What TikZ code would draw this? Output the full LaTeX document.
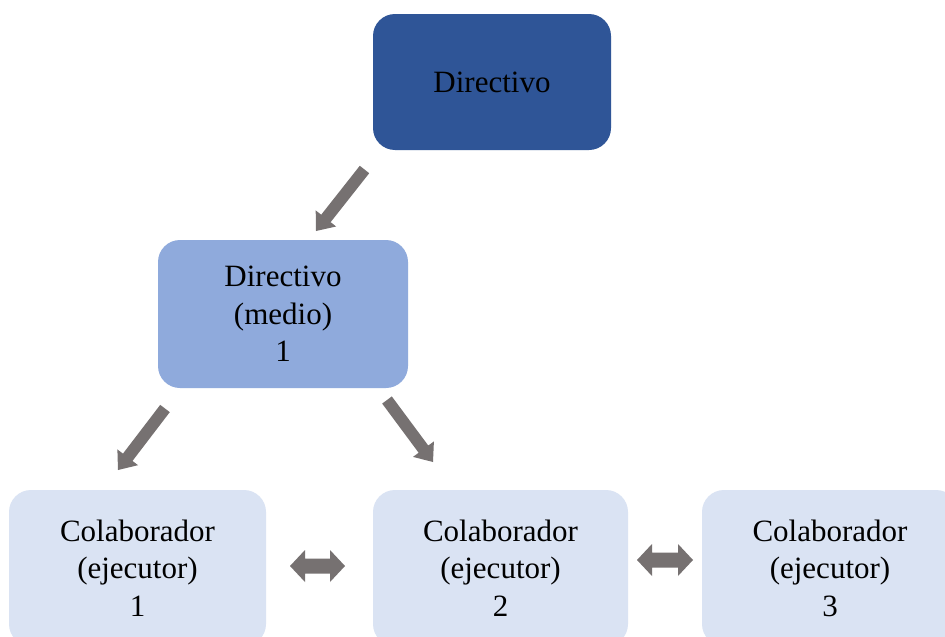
\documentclass[tikz,border=0pt]{standalone}
\usepackage{fontspec}
\setmainfont{Liberation Serif}
\usetikzlibrary{calc}
\definecolor{topblue}{HTML}{2F5597}
\definecolor{midblue}{HTML}{8FAADC}
\definecolor{lowblue}{HTML}{DAE3F3}
\definecolor{arrowgray}{HTML}{767171}
\tikzset{
  box/.style={rectangle, rounded corners=22pt, draw=none, align=center,
    font=\fontsize{31}{37.5}\selectfont, text=black, inner sep=0pt},
}
% #1 tail, #2 tip, #3 shaft half width, #4 head half width, #5 head length
\newcommand\blockarrow[5]{%
  \coordinate (bah) at ($(#2)!#5!(#1)$);
  \fill[arrowgray] ($(#1)!#3!90:(#2)$) -- ($(bah)!#3!90:(#2)$) -- ($(bah)!#4!90:(#2)$)
    -- (#2) -- ($(bah)!#4!-90:(#2)$) -- ($(bah)!#3!-90:(#2)$) -- ($(#1)!#3!-90:(#2)$) -- cycle;
}
% #1 left tip, #2 right tip
\newcommand\dblarrow[2]{%
  \coordinate (dl) at ($(#1)!15pt!(#2)$);
  \coordinate (dr) at ($(#2)!15pt!(#1)$);
  \fill[arrowgray] (#1) -- ($(dl)!16pt!90:(#2)$) -- ($(dl)!7.5pt!90:(#2)$) -- ($(dr)!7.5pt!-90:(#1)$)
    -- ($(dr)!16pt!-90:(#1)$) -- (#2) -- ($(dr)!16pt!90:(#1)$) -- ($(dr)!7.5pt!90:(#1)$)
    -- ($(dl)!7.5pt!-90:(#2)$) -- ($(dl)!16pt!-90:(#2)$) -- cycle;
}
\begin{document}
\begin{tikzpicture}[x=1pt,y=-1pt]
\clip (0,0) rectangle (945,637);
\fill[white] (0,0) rectangle (945,637);
\node[box, fill=topblue, minimum width=238pt, minimum height=136pt] (dir) at (492,82) {Directivo};
\node[box, fill=midblue, minimum width=250pt, minimum height=148pt] (mid) at (283,314) {Directivo\\(medio)\\1};
\node[box, fill=lowblue, minimum width=257pt, minimum height=156pt] (c1) at (137.5,568) {Colaborador\\(ejecutor)\\1};
\node[box, fill=lowblue, minimum width=255pt, minimum height=156pt] (c2) at (500.5,568) {Colaborador\\(ejecutor)\\2};
\node[box, fill=lowblue, minimum width=256pt, minimum height=156pt] (c3) at (830,568) {Colaborador\\(ejecutor)\\3};
\coordinate (a1s) at (364.5,169.5);
\coordinate (a1e) at (316,231);
\coordinate (a2s) at (165,408.5);
\coordinate (a2e) at (118,470);
\coordinate (a3s) at (387,400);
\coordinate (a3e) at (433,462);
\coordinate (d1l) at (290,566);
\coordinate (d1r) at (345,566);
\coordinate (d2l) at (637,560);
\coordinate (d2r) at (693,560);
\blockarrow{a1s}{a1e}{6pt}{13pt}{16pt}
\blockarrow{a2s}{a2e}{6pt}{13pt}{16pt}
\blockarrow{a3s}{a3e}{6pt}{13pt}{16pt}
\dblarrow{d1l}{d1r}
\dblarrow{d2l}{d2r}
\end{tikzpicture}
\end{document}
